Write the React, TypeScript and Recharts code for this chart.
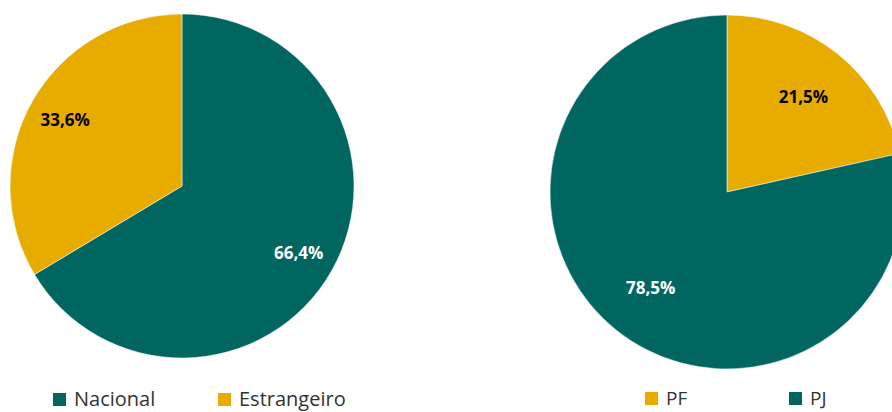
import React from 'react';
import { PieChart, Pie, Cell } from 'recharts';

const TEAL = '#00665F';
const GOLD = '#E8AC00';

// left pie: origin of the capital
const originNames = ['Nacional', 'Estrangeiro'];
const originValues = [66.4, 33.6];
const originColors = [TEAL, GOLD];

// right pie: type of person
const personNames = ['PF', 'PJ'];
const personValues = [21.5, 78.5];
const personColors = [GOLD, TEAL];

const originData = originNames.map((name, i) => ({ name, value: originValues[i] }));
const personData = personNames.map((name, i) => ({ name, value: personValues[i] }));

const RAD = Math.PI / 180;
const FONT = '"Open Sans", "Noto Sans", sans-serif';

const makeLabel = (ratio: number, colors: string[]) => (props: any) => {
  const { cx, cy, midAngle, outerRadius, value, index } = props;
  const r = outerRadius * ratio;
  const x = cx + r * Math.cos(-midAngle * RAD);
  const y = cy + r * Math.sin(-midAngle * RAD);
  const fill = colors[index] === TEAL ? '#ffffff' : '#000000';
  return (
    <text
      x={x}
      y={y}
      fill={fill}
      textAnchor="middle"
      dominantBaseline="central"
      fontFamily={FONT}
      fontWeight={700}
      fontSize={17}
    >
      {value.toFixed(1).replace('.', ',') + '%'}
    </text>
  );
};

const LegendItem: React.FC<{ x: number; y: number; color: string; label: string; size?: number }> = ({ x, y, color, label, size = 20 }) => (
  <div style={{ position: 'absolute', left: x, top: y, display: 'flex', alignItems: 'center', height: 14 }}>
    <div style={{ width: 13, height: 13, background: color, marginRight: 8 }} />
    <span style={{ fontFamily: FONT, fontSize: size, color: '#333', lineHeight: '14px' }}>{label}</span>
  </div>
);

export default function App() {
  const originLegendX = [53, 218];
  const personLegendX = [645, 789];
  return (
    <div style={{ position: 'absolute', left: 0, top: 0, width: 892, height: 412, background: '#fff', overflow: 'hidden' }}>
      <PieChart width={892} height={412} margin={{ top: 0, right: 0, bottom: 0, left: 0 }}>
        <Pie
          data={originData}
          dataKey="value"
          nameKey="name"
          cx={182}
          cy={186}
          outerRadius={172}
          startAngle={90}
          endAngle={-270}
          stroke="#ffffff"
          strokeWidth={0.5}
          labelLine={false}
          label={makeLabel(0.78, originColors)}
          isAnimationActive={false}
        >
          {originData.map((d, i) => (
            <Cell key={d.name} fill={originColors[i]} />
          ))}
        </Pie>
        <Pie
          data={personData}
          dataKey="value"
          nameKey="name"
          cx={727}
          cy={192}
          outerRadius={177}
          startAngle={90}
          endAngle={-270}
          stroke="#ffffff"
          strokeWidth={0.5}
          labelLine={false}
          label={makeLabel(0.69, personColors)}
          isAnimationActive={false}
        >
          {personData.map((d, i) => (
            <Cell key={d.name} fill={personColors[i]} />
          ))}
        </Pie>
      </PieChart>
      {originNames.map((n, i) => (
        <LegendItem key={n} x={originLegendX[i]} y={392} color={originColors[i]} label={n} />
      ))}
      {personNames.map((n, i) => (
        <LegendItem key={n} x={personLegendX[i]} y={391} color={personColors[i]} label={n} size={19} />
      ))}
    </div>
  );
}
